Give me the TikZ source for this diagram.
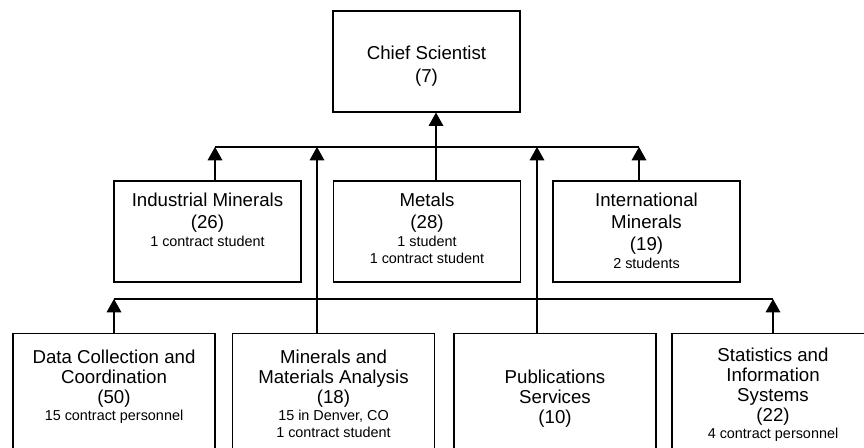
\documentclass[tikz,border=0pt]{standalone}
\usepackage{fontspec}
\setmainfont{Liberation Sans}
\usetikzlibrary{arrows.meta,positioning}

\newcommand{\unitname}{\fontsize{14}{16.5}\selectfont}
\newcommand{\unitnote}{\fontsize{10.8}{13}\selectfont}

\begin{document}
\begin{tikzpicture}[x=0.75pt,y=-0.75pt,
    unitbox/.style={draw,line width=0.9pt,inner sep=0pt,
      minimum width=140.25pt,minimum height=75.75pt},
    lowbox/.style={unitbox,minimum width=151.5pt,minimum height=110pt},
    unittext/.style={align=center,inner sep=0pt,font=\unitname},
    lowtext/.style={unittext,font=\fontsize{14}{15}\selectfont},
    uparrow/.style={line width=0.9pt,-{Triangle[width=11pt,length=10pt]}},
    bus/.style={line width=0.9pt}]
  \useasboundingbox (0,0) rectangle (864,448);
  \clip (0,0) rectangle (864,448);

  % boxes
  \node[unitbox] (chief) at (426.5,61.5) {};
  \node[unitbox] (ind) at (207.5,231.5) {};
  \node[unitbox] (metals) at (427,231.5) {};
  \node[unitbox] (intl) at (646.5,231.5) {};
  \node[lowbox] (dcc) at (114,406.5) {};
  \node[lowbox] (mma) at (333.5,406.5) {};
  \node[lowbox] (pub) at (555,406.5) {};
  \node[lowbox] (sis) at (773,406.5) {};

  % texts
  \node[unittext,font=\fontsize{14}{17}\selectfont,below=26.5pt of chief.north] (chieftext)
    {Chief Scientist\\(7)};
  \node[unittext,below=9pt of ind.north] (indtext)
    {Industrial Minerals\\(26)\\[-3pt]{\unitnote 1 contract student}};
  \node[unittext,below=9pt of metals.north] (metalstext)
    {Metals\\(28)\\[-3pt]{\unitnote 1 student}\\[-3.75pt]{\unitnote 1 contract student}};
  \node[unittext,below=9pt of intl.north] (intltext)
    {International\\Minerals\\(19)\\[-3pt]{\unitnote 2 students}};
  \node[lowtext,below=12.75pt of dcc.north] (dcctext)
    {Data Collection and\\Coordination\\(50)\\[-2pt]{\unitnote 15 contract personnel}};
  \node[lowtext,below=12.75pt of mma.north] (mmatext)
    {Minerals and\\Materials Analysis\\(18)\\[-2pt]{\unitnote 15 in Denver, CO}\\[-2.25pt]{\unitnote 1 contract student}};
  \node[lowtext,below=27.75pt of pub.north] (pubtext)
    {Publications\\Services\\(10)};
  \node[lowtext,below=11.25pt of sis.north] (sistext)
    {Statistics and\\Information\\Systems\\(22)\\[-2pt]{\unitnote 4 contract personnel}};

  % bus lines
  \coordinate (busAw) at (215,147);
  \coordinate (busAe) at (639,147);
  \coordinate (spine) at (436,147);
  \coordinate (mmaup) at (317,147);
  \coordinate (pubup) at (537,147);
  \coordinate (busBw) at (114,299);
  \coordinate (busBe) at (773,299);
  \draw[bus] (busAw) -- (busAe);
  \draw[bus] (busBw) -- (busBe);

  % connectors
  \draw[uparrow] (metals.north -| spine) -- (chief.south -| spine);
  \draw[uparrow] (ind.north -| busAw) -- (busAw);
  \draw[uparrow] (intl.north -| busAe) -- (busAe);
  \draw[uparrow] (mma.north -| mmaup) -- (mmaup);
  \draw[uparrow] (pub.north -| pubup) -- (pubup);
  \draw[uparrow] (dcc.north) -- (busBw);
  \draw[uparrow] (sis.north) -- (busBe);
\end{tikzpicture}
\end{document}
